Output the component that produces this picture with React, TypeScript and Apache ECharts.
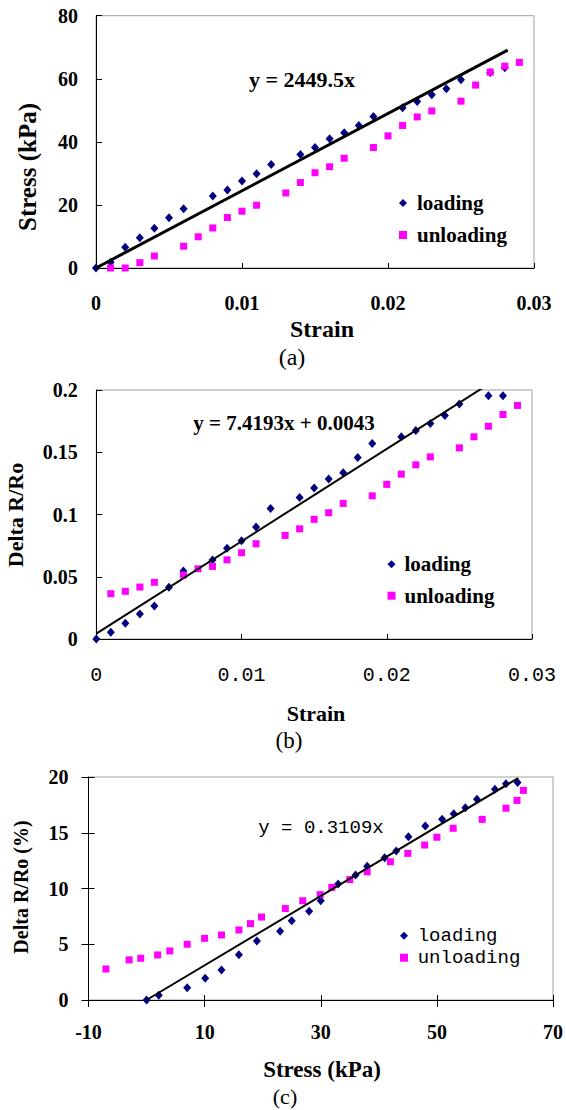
import React, { useEffect, useRef } from "react";
import * as echarts from "echarts";

// ---------- Chart (a): Stress vs Strain ----------
const aLoadX = [0, 0.001, 0.002, 0.003, 0.004, 0.005, 0.006, 0.008, 0.009, 0.010, 0.011, 0.012, 0.014, 0.015, 0.016, 0.017, 0.018, 0.019, 0.021, 0.022, 0.023, 0.024, 0.025, 0.027, 0.028];
const aLoadY = [0, 1.8, 6.6, 9.6, 12.6, 15.9, 18.8, 22.8, 24.7, 27.6, 29.9, 32.8, 36.0, 38.2, 41.0, 42.9, 45.2, 48.0, 50.8, 52.8, 54.9, 56.8, 59.7, 62.0, 63.5];
const aUnX = [0.001, 0.002, 0.003, 0.004, 0.006, 0.007, 0.008, 0.009, 0.010, 0.011, 0.013, 0.014, 0.015, 0.016, 0.017, 0.019, 0.020, 0.021, 0.022, 0.023, 0.025, 0.026, 0.027, 0.028, 0.029];
const aUnY = [0, 0, 1.7, 3.8, 6.9, 9.9, 12.7, 16.0, 18.0, 19.9, 23.8, 27.1, 30.2, 32.1, 34.8, 38.2, 41.9, 45.2, 47.9, 49.8, 52.9, 58.0, 62.1, 64.0, 65.2];
const aFit = { slope: 2449.5, intercept: 0, xStart: 0, xEnd: 0.0282, label: "y = 2449.5x" };
const aXTicks = { min: 0, max: 0.03, interval: 0.01 };
const aYTicks = { min: 0, max: 80, interval: 20 };

// ---------- Chart (b): Delta R/Ro vs Strain ----------
const bLoadX = [0, 0.001, 0.002, 0.003, 0.004, 0.005, 0.006, 0.008, 0.009, 0.010, 0.011, 0.012, 0.014, 0.015, 0.016, 0.017, 0.018, 0.019, 0.021, 0.022, 0.023, 0.024, 0.025, 0.027, 0.028];
const bLoadY = [0, 0.0054, 0.0126, 0.0200, 0.0265, 0.0415, 0.0546, 0.0634, 0.0728, 0.0789, 0.0899, 0.1049, 0.1137, 0.1212, 0.1286, 0.1335, 0.1458, 0.1570, 0.1624, 0.1675, 0.1731, 0.1795, 0.1888, 0.1953, 0.1953];
const bUnX = [0.001, 0.002, 0.003, 0.004, 0.006, 0.007, 0.008, 0.009, 0.010, 0.011, 0.013, 0.014, 0.015, 0.016, 0.017, 0.019, 0.020, 0.021, 0.022, 0.023, 0.025, 0.026, 0.027, 0.028, 0.029];
const bUnY = [0.0364, 0.0383, 0.0417, 0.0455, 0.0514, 0.0564, 0.0583, 0.0636, 0.0693, 0.0765, 0.0832, 0.0885, 0.0961, 0.1014, 0.1089, 0.1150, 0.1242, 0.1324, 0.1399, 0.1463, 0.1535, 0.1624, 0.1709, 0.1803, 0.1876];
const bFit = { slope: 7.4193, intercept: 0.0043, xStart: 0, xEnd: 0.028, label: "y = 7.4193x + 0.0043" };
const bXTicks = { min: 0, max: 0.03, interval: 0.01 };
const bYTicks = { min: 0, max: 0.2, interval: 0.05 };

// ---------- Chart (c): Delta R/Ro (%) vs Stress ----------
const cLoadX = [0, 2.1, 7.0, 10.1, 12.9, 15.9, 19.0, 23.0, 25.0, 28.0, 30.0, 33.0, 36.0, 38.0, 41.0, 43.0, 45.1, 48.0, 50.9, 52.9, 54.9, 56.9, 60.0, 61.9, 63.9];
const cLoadY = [0, 0.42, 1.1, 1.95, 2.7, 4.06, 5.3, 6.16, 7.1, 7.95, 8.9, 10.4, 11.2, 12.0, 12.76, 13.36, 14.65, 15.6, 16.2, 16.7, 17.25, 18.0, 18.9, 19.4, 19.5];
const cUnX = [-7.0, -3.0, -1.0, 1.9, 4.0, 7.0, 10.0, 12.9, 15.9, 17.9, 19.8, 23.9, 26.9, 29.9, 31.9, 35.0, 38.0, 42.0, 45.0, 47.9, 50.0, 52.8, 57.8, 61.9, 63.8, 64.9];
const cUnY = [2.78, 3.6, 3.74, 4.04, 4.4, 5.0, 5.53, 5.83, 6.28, 6.85, 7.44, 8.2, 8.9, 9.45, 10.1, 10.8, 11.5, 12.4, 13.15, 13.9, 14.6, 15.4, 16.2, 17.2, 17.9, 18.8];
const cFit = { slope: 0.3109, intercept: 0, xStart: 0, xEnd: 64, label: "y = 0.3109x" };
const cXTicks = { min: -10, max: 70, interval: 20 };
const cYTicks = { min: 0, max: 20, interval: 5 };

const seriesNames = ["loading", "unloading"];
const titles = {
  a: { y: "Stress (kPa)", x: "Strain", tag: "(a)" },
  b: { y: "Delta R/Ro", x: "Strain", tag: "(b)" },
  c: { y: "Delta R/Ro (%)", x: "Stress (kPa)", tag: "(c)" },
};

const SERIF = '"Liberation Serif", "Times New Roman", serif';
const MONO = '"Liberation Mono", "DejaVu Sans Mono", monospace';
const NAVY = "#000080";
const MAGENTA = "#FF00FF";

const zip = (xs: number[], ys: number[]) => xs.map((x, i) => [x, ys[i]]);
const fitLine = (f: { slope: number; intercept: number; xStart: number; xEnd: number }) => [
  [f.xStart, f.slope * f.xStart + f.intercept],
  [f.xEnd, f.slope * f.xEnd + f.intercept],
];

const fmtStrain = (v: number) => (Math.abs(v) < 1e-12 ? "0" : v.toFixed(2));
const fmtB = (v: number) => (Math.abs(v) < 1e-12 ? "0" : String(parseFloat(v.toFixed(2))));

function buildOption() {
  const axisLineBlack = { show: true, onZero: false, lineStyle: { color: "#000", width: 1 } };
  const boldSerifLabel = (size: number, margin: number) => ({
    fontFamily: SERIF,
    fontWeight: "bold" as const,
    fontSize: size,
    color: "#000",
    margin,
  });

  const gridBase = { show: true, borderColor: "#a0a0a0", borderWidth: 1, backgroundColor: "transparent", containLabel: false };

  const text = (x: number, y: number, t: string, font: string, rotation = 0) => ({
    type: "text",
    x,
    y,
    rotation,
    silent: true,
    style: { text: t, font, fill: "#000", textAlign: "center", textVerticalAlign: "middle" },
  });

  const scatter = (name: string, xi: number, data: number[][]) => ({
    type: "scatter",
    name,
    xAxisIndex: xi,
    yAxisIndex: xi,
    data,
    symbol: name === "loading" ? "diamond" : "rect",
    symbolSize: name === "loading" ? [8, 9] : 7,
    itemStyle: { color: name === "loading" ? NAVY : MAGENTA, opacity: 1 },
    z: 2,
  });

  const line = (name: string, xi: number, data: number[][], width: number) => ({
    type: "line",
    name,
    xAxisIndex: xi,
    yAxisIndex: xi,
    data,
    showSymbol: false,
    symbol: "none",
    clip: true,
    lineStyle: { color: "#000", width },
    z: 3,
    silent: true,
  });

  return {
    animation: false,
    backgroundColor: "#fff",
    grid: [
      { ...gridBase, left: 96, top: 15.7, width: 438, height: 252.3 },
      { ...gridBase, left: 96.3, top: 390, width: 435.7, height: 249 },
      { ...gridBase, left: 88.5, top: 777, width: 466, height: 223 },
    ],
    xAxis: [
      {
        gridIndex: 0, type: "value", ...aXTicks,
        axisLine: axisLineBlack,
        axisTick: { show: true, inside: true, length: 5, lineStyle: { color: "#000" } },
        axisLabel: { ...boldSerifLabel(20, 25), formatter: fmtStrain },
        splitLine: { show: false },
      },
      {
        gridIndex: 1, type: "value", ...bXTicks,
        axisLine: axisLineBlack,
        axisTick: { show: true, inside: true, length: 5, lineStyle: { color: "#000" } },
        axisLabel: { fontFamily: MONO, fontSize: 20, color: "#000", margin: 26, formatter: fmtStrain },
        splitLine: { show: false },
      },
      {
        gridIndex: 2, type: "value", ...cXTicks, position: "bottom",
        axisLine: axisLineBlack,
        axisTick: { show: true, inside: false, length: 7, lineStyle: { color: "#000" } },
        axisLabel: { ...boldSerifLabel(20, 22) },
        splitLine: { show: false },
      },
      {
        gridIndex: 2, type: "value", ...cXTicks, position: "bottom",
        axisLine: { show: false, onZero: false },
        axisTick: { show: true, inside: true, length: 5, lineStyle: { color: "#000" } },
        axisLabel: { show: false },
        splitLine: { show: false },
      },
    ],
    yAxis: [
      {
        gridIndex: 0, type: "value", ...aYTicks,
        axisLine: axisLineBlack,
        axisTick: { show: true, inside: true, length: 6, lineStyle: { color: "#000" } },
        axisLabel: { ...boldSerifLabel(20, 18) },
        splitLine: { show: false },
      },
      {
        gridIndex: 1, type: "value", ...bYTicks,
        axisLine: axisLineBlack,
        axisTick: { show: true, inside: true, length: 6, lineStyle: { color: "#000" } },
        axisLabel: { ...boldSerifLabel(20, 18.5), formatter: fmtB },
        splitLine: { show: false },
      },
      {
        gridIndex: 2, type: "value", ...cYTicks, position: "left",
        axisLine: axisLineBlack,
        axisTick: { show: true, inside: false, length: 7, lineStyle: { color: "#000" } },
        axisLabel: { ...boldSerifLabel(20, 20) },
        splitLine: { show: false },
      },
      {
        gridIndex: 2, type: "value", ...cYTicks, position: "left",
        axisLine: { show: false, onZero: false },
        axisTick: { show: true, inside: true, length: 6, lineStyle: { color: "#000" } },
        axisLabel: { show: false },
        splitLine: { show: false },
      },
    ],
    legend: [
      {
        orient: "vertical", left: 394, top: 187.5, itemWidth: 8, itemHeight: 8, itemGap: 11,
        data: seriesNames, selectedMode: false,
        textStyle: { fontFamily: SERIF, fontWeight: "bold", fontSize: 21, lineHeight: 21, color: "#000", padding: [0, 0, 0, 5] },
      },
      {
        orient: "vertical", left: 382.5, top: 548.8, itemWidth: 8, itemHeight: 8, itemGap: 10.4,
        data: seriesNames, selectedMode: false,
        textStyle: { fontFamily: SERIF, fontWeight: "bold", fontSize: 21, lineHeight: 21, color: "#000", padding: [0, 0, 0, 4] },
      },
      {
        orient: "vertical", left: 395, top: 921.2, itemWidth: 8, itemHeight: 8, itemGap: 3,
        data: seriesNames, selectedMode: false,
        textStyle: { fontFamily: MONO, fontSize: 19, lineHeight: 19, color: "#000", padding: [0, 0, 0, 4.7] },
      },
    ],
    graphic: [
      text(27, 167, titles.a.y, `bold 25px ${SERIF}`, Math.PI / 2),
      text(322, 329, titles.a.x, `bold 24px ${SERIF}`),
      text(292, 357, titles.a.tag, `24px ${SERIF}`),
      text(302, 79, aFit.label, `bold 22px ${SERIF}`),

      text(15, 515, titles.b.y, `bold 22px ${SERIF}`, Math.PI / 2),
      text(316, 713, titles.b.x, `bold 22px ${SERIF}`),
      text(289, 740, titles.b.tag, `23px ${SERIF}`),
      text(284, 423, bFit.label, `bold 21px ${SERIF}`),

      text(21, 887, titles.c.y, `bold 20px ${SERIF}`, Math.PI / 2),
      text(322, 1069, titles.c.x, `bold 23px ${SERIF}`),
      text(285, 1096, titles.c.tag, `22px ${SERIF}`),
      text(321, 828, cFit.label, `19px ${MONO}`),
    ],
    series: [
      scatter("loading", 0, zip(aLoadX, aLoadY)),
      scatter("unloading", 0, zip(aUnX, aUnY)),
      line("fit (a)", 0, fitLine(aFit), 3),
      scatter("loading", 1, zip(bLoadX, bLoadY)),
      scatter("unloading", 1, zip(bUnX, bUnY)),
      line("fit (b)", 1, fitLine(bFit), 2),
      scatter("loading", 2, zip(cLoadX, cLoadY)),
      scatter("unloading", 2, zip(cUnX, cUnY)),
      line("fit (c)", 2, fitLine(cFit), 2),
    ],
  };
}

export default function App() {
  const ref = useRef<HTMLDivElement>(null);
  useEffect(() => {
    if (!ref.current) return;
    const chart = echarts.init(ref.current, undefined, { renderer: "svg" });
    chart.setOption(buildOption() as any);
    return () => chart.dispose();
  }, []);
  return (
    <div
      ref={ref}
      style={{ position: "absolute", left: 0, top: 0, width: 566, height: 1110, background: "#fff" }}
    />
  );
}
